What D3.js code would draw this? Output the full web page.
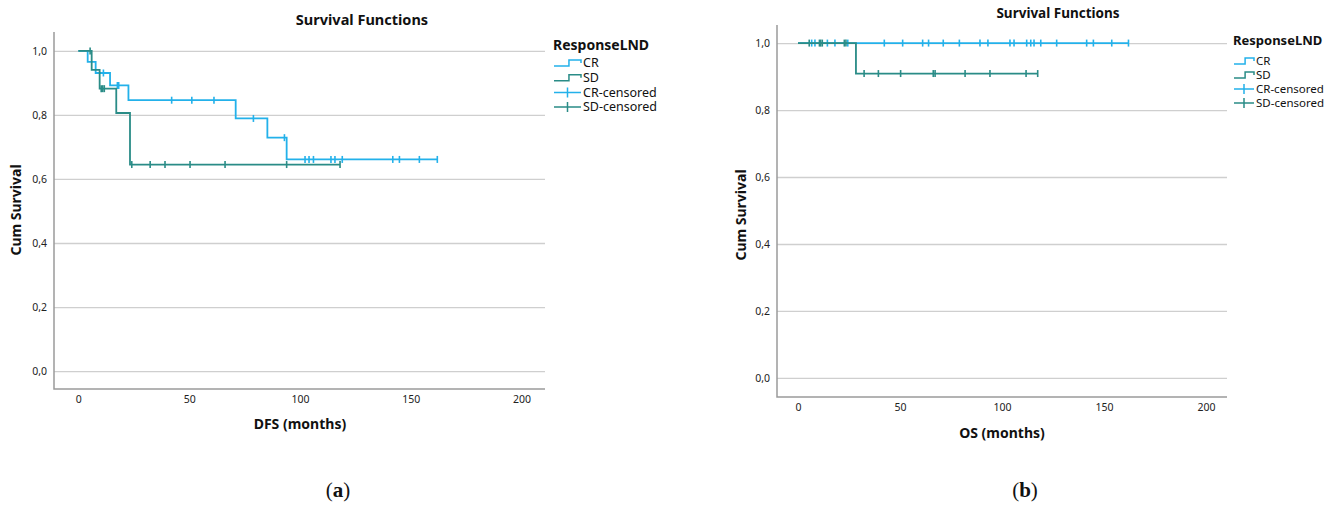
<!DOCTYPE html>
<html>
<head>
<meta charset="utf-8">
<script src="https://cdn.jsdelivr.net/npm/d3@7"></script>
<style>
  body { margin: 0; background: #fff; }
  svg { display: block; }
</style>
</head>
<body>
<svg id="chart" width="1335" height="505"></svg>
<script>
// DFS, panel (a)
const dfsCrTimes = [0, 4.2, 7.8, 14.3, 22.6, 71.0, 85.3, 94.0, 162.0];
const dfsCrSurv  = [1, 0.966, 0.931, 0.892, 0.846, 0.789, 0.729, 0.661, 0.661];
const dfsCrCensored = [11.3, 17.6, 18.2, 42.1, 51.2, 61.2, 79.0, 93.0, 102.3, 104.1, 106.1,
                       114.0, 115.8, 119.1, 141.9, 144.9, 153.9, 162.0];
const dfsSdTimes = [0, 6.0, 9.6, 17.1, 23.3, 118.1];
const dfsSdSurv  = [1, 0.941, 0.882, 0.806, 0.645, 0.645];
const dfsSdCensored = [5.3, 10.3, 11.0, 11.7, 24.1, 32.4, 39.1, 50.4, 66.2, 94.0, 118.1];

// OS, panel (b)
const osCrTimes = [0, 162.0];
const osCrSurv  = [1, 1];
const osCrCensored = [6.7, 8.3, 14.4, 18.1, 24.4, 42.3, 51.3, 61.1, 64.0, 71.2, 79.1, 89.2,
                      93.1, 103.9, 105.9, 112.1, 114.1, 115.7, 119.0, 126.8, 141.5, 144.8, 153.8, 162.0];
const osSdTimes = [0, 28.4, 117.5];
const osSdSurv  = [1, 0.909, 0.909];
const osSdCensored = [5.5, 10.5, 11.1, 11.9, 22.7, 23.5, 32.4, 39.4, 50.3, 66.3, 67.2,
                      81.9, 94.1, 111.8, 117.5];

const xTicks = [0, 50, 100, 150, 200];
const yTicks = [0, 0.2, 0.4, 0.6, 0.8, 1.0];
const legendLabels = ["CR", "SD", "CR-censored", "SD-censored"];

const crColor = "#23b1ea";
const sdColor = "#2a8c87";
const font = "'Noto Sans', 'DejaVu Sans', sans-serif";

const svg = d3.select("#chart");

function survAt(times, surv, t) {
  // value of the step curve at time t
  let v = surv[0];
  for (let i = 0; i < times.length; i++) {
    if (times[i] <= t) v = surv[i];
  }
  return v;
}

function drawPanel(cfg) {
  const g = svg.append("g");
  const x = d3.scaleLinear().domain(cfg.xDomain).range([cfg.left, cfg.right]);
  const y = d3.scaleLinear().domain(cfg.yDomain).range([cfg.bottom, cfg.top]);

  // gridlines + y labels
  const yAxis = g.append("g")
    .attr("transform", `translate(${cfg.left},0)`)
    .call(d3.axisLeft(y).tickValues(yTicks)
      .tickSize(-(cfg.right - cfg.left))
      .tickPadding(7)
      .tickFormat(d => d3.format(".1f")(d).replace(".", ",")));
  yAxis.select(".domain").remove();
  yAxis.selectAll(".tick line").attr("stroke", "#cfcfcf").attr("stroke-width", 1.3);
  yAxis.selectAll(".tick text").attr("font-family", font).attr("font-size", cfg.tickSize).attr("fill", "#222");

  // x axis
  const xAxis = g.append("g")
    .attr("transform", `translate(0,${cfg.bottom})`)
    .call(d3.axisBottom(x).tickValues(xTicks).tickSize(0).tickPadding(7).tickFormat(d3.format("d")));
  xAxis.select(".domain").remove();
  xAxis.selectAll(".tick text").attr("font-family", font).attr("font-size", cfg.tickSize).attr("fill", "#222");

  // frame lines (left and bottom)
  g.append("path")
    .attr("d", `M${cfg.left},${cfg.top}V${cfg.bottom}H${cfg.right}`)
    .attr("fill", "none").attr("stroke", "#9a9a9a").attr("stroke-width", 1.5);

  const line = d3.line()
    .x(d => x(d[0]))
    .y(d => y(d[1]))
    .curve(d3.curveStepAfter);

  cfg.series.forEach(s => {
    const pts = s.times.map((t, i) => [t, s.surv[i]]);
    g.append("path")
      .datum(pts)
      .attr("fill", "none")
      .attr("stroke", s.color)
      .attr("stroke-width", 1.8)
      .attr("d", line);
    g.selectAll(null)
      .data(s.censored)
      .enter().append("line")
      .attr("x1", d => x(d)).attr("x2", d => x(d))
      .attr("y1", d => y(survAt(s.times, s.surv, d)) - 3.5)
      .attr("y2", d => y(survAt(s.times, s.surv, d)) + 3.5)
      .attr("stroke", s.color)
      .attr("stroke-width", 1.6);
  });

  // titles
  g.append("text")
    .attr("x", cfg.titleX).attr("y", cfg.titleY)
    .attr("text-anchor", "middle").attr("font-family", font)
    .attr("font-weight", "bold").attr("font-size", cfg.titleSize).attr("fill", "#111")
    .text("Survival Functions");
  g.append("text")
    .attr("x", (x(0) + x(200)) / 2).attr("y", cfg.xLabelY)
    .attr("text-anchor", "middle").attr("font-family", font)
    .attr("font-weight", "bold").attr("font-size", cfg.labelSize).attr("fill", "#111")
    .text(cfg.xLabel);
  g.append("text")
    .attr("transform", `translate(${cfg.yLabelX},${cfg.yLabelY}) rotate(-90)`)
    .attr("text-anchor", "middle").attr("font-family", font)
    .attr("font-weight", "bold").attr("font-size", cfg.labelSize).attr("fill", "#111")
    .text("Cum Survival");

  // legend
  const lg = g.append("g").attr("transform", `translate(${cfg.legendX},${cfg.legendY})`);
  lg.append("text")
    .attr("x", 0).attr("y", 0).attr("dy", "0.35em")
    .attr("font-family", font).attr("font-weight", "bold")
    .attr("font-size", cfg.legendTitleSize).attr("fill", "#111")
    .text("ResponseLND");
  const w = cfg.symbolW;
  legendLabels.forEach((lab, i) => {
    const cy = cfg.legendFirst + i * cfg.legendStep;
    const col = i % 2 === 0 ? crColor : sdColor;
    if (i < 2) {
      lg.append("path")
        .attr("d", `M1,${cy + 3}H${w * 0.55}V${cy - 3}H${w - 1}V${cy}`)
        .attr("fill", "none").attr("stroke", col).attr("stroke-width", 1.5);
    } else {
      lg.append("path")
        .attr("d", `M1,${cy}H${w - 1}M${w / 2},${cy - 5}V${cy + 5}`)
        .attr("fill", "none").attr("stroke", col).attr("stroke-width", 1.5);
    }
    lg.append("text")
      .attr("x", w + 1).attr("y", cy).attr("dy", "0.35em")
      .attr("font-family", font).attr("font-size", cfg.legendSize).attr("fill", "#111")
      .text(lab);
  });
}

drawPanel({
  left: 54, right: 545, top: 32, bottom: 389,
  xDomain: [-11, 210.6], yDomain: [-0.056, 1.059],
  tickSize: 10.5, titleSize: 14.5, labelSize: 14,
  titleX: 362, titleY: 25, xLabel: "DFS (months)", xLabelY: 429,
  yLabelX: 21, yLabelY: 210,
  legendX: 553, legendY: 45, legendFirst: 18, legendStep: 14.7,
  legendTitleSize: 14, legendSize: 12.5, symbolW: 29,
  series: [
    { times: dfsCrTimes, surv: dfsCrSurv, censored: dfsCrCensored, color: crColor },
    { times: dfsSdTimes, surv: dfsSdSurv, censored: dfsSdCensored, color: sdColor }
  ]
});

drawPanel({
  left: 777, right: 1227, top: 25, bottom: 397,
  xDomain: [-10.3, 210.3], yDomain: [-0.057, 1.054],
  tickSize: 10.5, titleSize: 13.5, labelSize: 14,
  titleX: 1058, titleY: 18, xLabel: "OS (months)", xLabelY: 438,
  yLabelX: 746, yLabelY: 215,
  legendX: 1233, legendY: 40, legendFirst: 21, legendStep: 14,
  legendTitleSize: 13, legendSize: 11.5, symbolW: 22,
  series: [
    { times: osCrTimes, surv: osCrSurv, censored: osCrCensored, color: crColor },
    { times: osSdTimes, surv: osSdSurv, censored: osSdCensored, color: sdColor }
  ]
});

// panel captions
[["a", 338], ["b", 1025]].forEach(([c, cx]) => {
  const t = svg.append("text")
    .attr("x", cx).attr("y", 497)
    .attr("text-anchor", "middle")
    .attr("font-family", "'Liberation Serif', 'DejaVu Serif', serif")
    .attr("font-size", 21).attr("fill", "#111");
  t.append("tspan").text("(");
  t.append("tspan").attr("font-weight", "bold").text(c);
  t.append("tspan").text(")");
});
</script>
</body>
</html>
